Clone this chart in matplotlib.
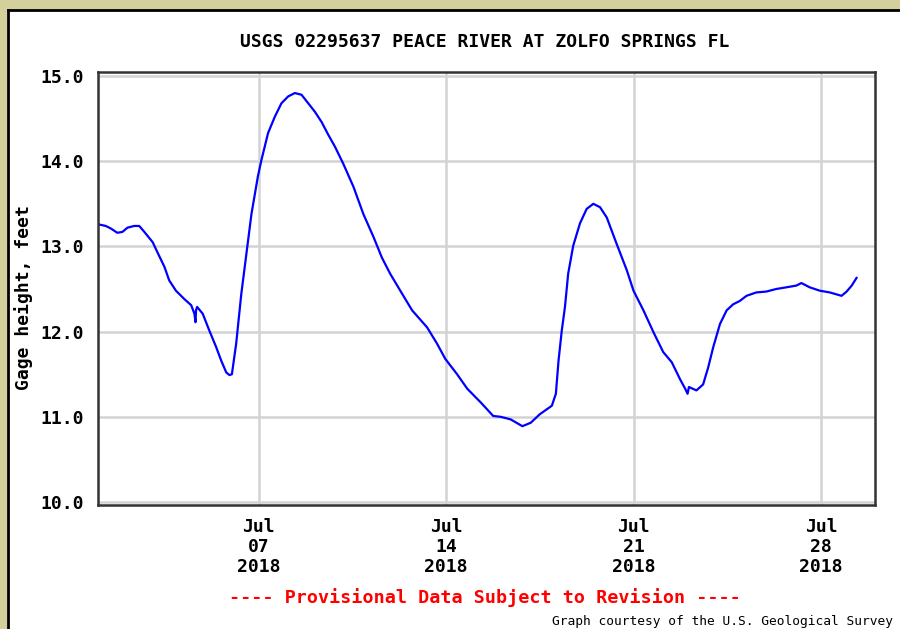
from datetime import datetime, timedelta
import matplotlib
matplotlib.use("Agg")
import matplotlib.pyplot as plt
import matplotlib.dates as mdates
from matplotlib.patches import Rectangle
from matplotlib.lines import Line2D

# days since 2018-07-01 00:00 and gage height (feet)
day = [0.0, 0.29, 0.48, 0.72, 0.91, 1.10, 1.35, 1.54, 1.73, 2.04, 2.22, 2.48,
       2.66, 2.91, 3.23, 3.48, 3.60, 3.64, 3.66, 3.70, 3.91, 4.16, 4.41, 4.60,
       4.79, 4.91, 5.00, 5.16, 5.35, 5.54, 5.73, 5.97, 6.10, 6.35, 6.60, 6.85,
       7.10, 7.35, 7.60, 7.85, 8.10, 8.35, 8.60, 8.85, 9.16, 9.54, 9.91, 10.29,
       10.60, 10.91, 11.29, 11.73, 12.29, 12.66, 12.97, 13.41, 13.79, 14.29,
       14.76, 15.04, 15.41, 15.85, 16.16, 16.50, 16.95, 17.10, 17.20, 17.32,
       17.44, 17.56, 17.75, 18.00, 18.25, 18.50, 18.75, 19.00, 19.37, 19.75,
       20.00, 20.37, 20.75, 21.11, 21.43, 21.74, 21.93, 22.02, 22.07, 22.35,
       22.60, 22.79, 22.98, 23.23, 23.48, 23.72, 23.97, 24.22, 24.59, 24.96,
       25.33, 25.71, 26.08, 26.27, 26.58, 26.96, 27.33, 27.77, 27.96, 28.15,
       28.33]
height = [13.26, 13.24, 13.21, 13.16, 13.17, 13.22, 13.24, 13.24, 13.17, 13.05,
          12.93, 12.76, 12.60, 12.48, 12.38, 12.31, 12.21, 12.11, 12.25, 12.29,
          12.21, 12.01, 11.82, 11.66, 11.52, 11.49, 11.50, 11.86, 12.44, 12.91,
          13.38, 13.82, 14.01, 14.33, 14.52, 14.68, 14.76, 14.80, 14.78, 14.68,
          14.58, 14.46, 14.31, 14.17, 13.97, 13.70, 13.38, 13.11, 12.87, 12.68,
          12.48, 12.25, 12.05, 11.86, 11.68, 11.50, 11.33, 11.17, 11.01, 11.00,
          10.97, 10.89, 10.93, 11.03, 11.13, 11.27, 11.66, 12.01, 12.29, 12.68,
          13.01, 13.27, 13.44, 13.50, 13.46, 13.34, 13.03, 12.72, 12.48, 12.25,
          11.99, 11.76, 11.64, 11.44, 11.33, 11.27, 11.35, 11.31, 11.38, 11.58,
          11.82, 12.09, 12.25, 12.32, 12.36, 12.42, 12.46, 12.47, 12.50, 12.52,
          12.54, 12.57, 12.52, 12.48, 12.46, 12.42, 12.47, 12.54, 12.63]

tick_days = [6, 13, 20, 27]
tick_labels = ["Jul\n07\n2018", "Jul\n14\n2018", "Jul\n21\n2018", "Jul\n28\n2018"]
y_ticks = [10, 11, 12, 13, 14, 15]

base = datetime(2018, 7, 1)
times = [base + timedelta(days=d) for d in day]

mono = "DejaVu Sans Mono"
beige = "#d3d09c"

fig = plt.figure(figsize=(9, 6.29), dpi=100, facecolor=beige)

# white panel with black frame on left/top, drawn below the chart axes
fig.patches.append(Rectangle((7 / 900, 0), 1.0, 1 - 10 / 629, transform=fig.transFigure,
                             facecolor="white", edgecolor="none", zorder=-10))
fig.lines.append(Line2D([7.5 / 900, 7.5 / 900], [0, 1 - 10 / 629], transform=fig.transFigure,
                        color="black", lw=2, zorder=-9))
fig.lines.append(Line2D([7.5 / 900, 1], [1 - 10 / 629, 1 - 10 / 629], transform=fig.transFigure,
                        color="black", lw=2, zorder=-9))

ax = fig.add_axes([97.5 / 900, 1 - 505 / 629, 777.5 / 900, 433 / 629])
ax.set_facecolor("white")
ax.plot(times, height, color="#0000ff", lw=1.6)

ax.set_xlim(base - timedelta(days=0.02), base + timedelta(days=29.02))
ax.set_ylim(9.965, 15.047)
ax.set_xticks([mdates.date2num(base + timedelta(days=d)) for d in tick_days])
ax.set_xticklabels(tick_labels, fontfamily=mono, fontweight="bold", fontsize=13,
                   linespacing=1.15)
ax.set_yticks(y_ticks)
ax.set_yticklabels([f"{v:.1f}" for v in y_ticks], fontfamily=mono, fontweight="bold",
                   fontsize=13)
ax.tick_params(length=0, pad=10)
ax.tick_params(axis="x", pad=9)
ax.grid(True, color="#d3d3d3", lw=1.8)
ax.set_axisbelow(True)
for s in ax.spines.values():
    s.set_color("#333333")
    s.set_linewidth(1.8)

ax.set_ylabel("Gage height, feet", fontfamily=mono, fontweight="bold", fontsize=13)
ax.yaxis.set_label_coords(-0.083, 0.479)

fig.text(485 / 900, 1 - 42 / 629, "USGS 02295637 PEACE RIVER AT ZOLFO SPRINGS FL",
         ha="center", va="center", fontfamily=mono, fontweight="bold", fontsize=13)
fig.text(485 / 900, 1 - 598 / 629, "---- Provisional Data Subject to Revision ----",
         ha="center", va="center", fontfamily=mono, fontweight="bold", fontsize=13.2,
         color="red")
fig.text(893 / 900, 1 - 621 / 629, "Graph courtesy of the U.S. Geological Survey",
         ha="right", va="center", fontfamily=mono, fontsize=9.3)

fig.savefig("out.png", dpi=100, facecolor=beige)
